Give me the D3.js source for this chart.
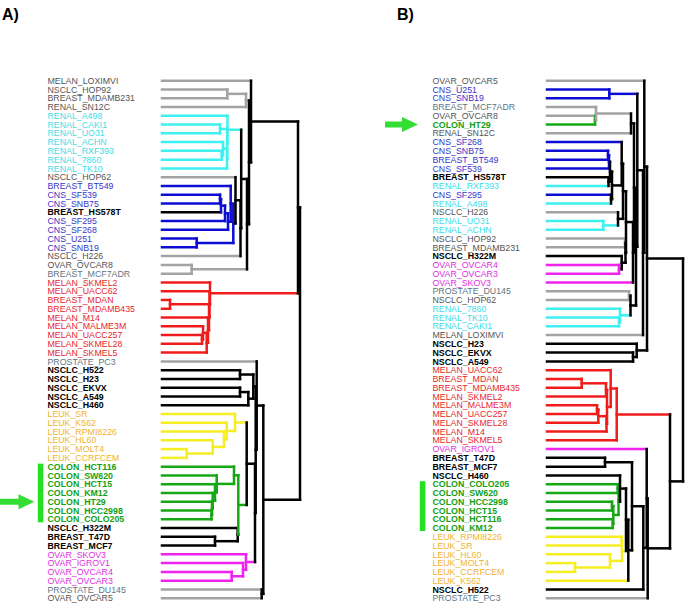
<!DOCTYPE html>
<html><head><meta charset="utf-8">
<script src="https://cdn.jsdelivr.net/npm/d3@7"></script>
<style>body{margin:0;background:#fff}svg{display:block}text{font-family:"Liberation Sans",Arial,Helvetica,sans-serif}</style>
</head><body>
<svg id="chart" width="685" height="606"></svg>
<script>
// ---- data ----
const orderA = ["MELAN_LOXIMVI","NSCLC_HOP92","BREAST_MDAMB231","RENAL_SN12C","RENAL_A498","RENAL_CAKI1","RENAL_UO31","RENAL_ACHN","RENAL_RXF393","RENAL_7860","RENAL_TK10","NSCLC_HOP62","BREAST_BT549","CNS_SF539","CNS_SNB75","BREAST_HS578T","CNS_SF295","CNS_SF268","CNS_U251","CNS_SNB19","NSCLC_H226","OVAR_OVCAR8","BREAST_MCF7ADR","MELAN_SKMEL2","MELAN_UACC62","BREAST_MDAN","BREAST_MDAMB435","MELAN_M14","MELAN_MALME3M","MELAN_UACC257","MELAN_SKMEL28","MELAN_SKMEL5","PROSTATE_PC3","NSCLC_H522","NSCLC_H23","NSCLC_EKVX","NSCLC_A549","NSCLC_H460","LEUK_SR","LEUK_K562","LEUK_RPMI8226","LEUK_HL60","LEUK_MOLT4","LEUK_CCRFCEM","COLON_HCT116","COLON_SW620","COLON_HCT15","COLON_KM12","COLON_HT29","COLON_HCC2998","COLON_COLO205","NSCLC_H322M","BREAST_T47D","BREAST_MCF7","OVAR_SKOV3","OVAR_IGROV1","OVAR_OVCAR4","OVAR_OVCAR3","PROSTATE_DU145","OVAR_OVCAR5"];
const groupsA = ["gray","gray","gray","gray","cyan","cyan","cyan","cyan","cyan","cyan","cyan","gray","blue","blue","blue","black","blue","blue","blue","blue","gray","gray","slate","red","red","red","red","red","red","red","red","red","slate","black","black","black","black","black","yellow","yellow","yellow","yellow","yellow","yellow","green","green","green","green","green","green","green","black","black","black","magenta","magenta","magenta","magenta","slate","gray"];
const orderB = ["OVAR_OVCAR5","CNS_U251","CNS_SNB19","BREAST_MCF7ADR","OVAR_OVCAR8","COLON_HT29","RENAL_SN12C","CNS_SF268","CNS_SNB75","BREAST_BT549","CNS_SF539","BREAST_HS578T","RENAL_RXF393","CNS_SF295","RENAL_A498","NSCLC_H226","RENAL_UO31","RENAL_ACHN","NSCLC_HOP92","BREAST_MDAMB231","NSCLC_H322M","OVAR_OVCAR4","OVAR_OVCAR3","OVAR_SKOV3","PROSTATE_DU145","NSCLC_HOP62","RENAL_7860","RENAL_TK10","RENAL_CAKI1","MELAN_LOXIMVI","NSCLC_H23","NSCLC_EKVX","NSCLC_A549","MELAN_UACC62","BREAST_MDAN","BREAST_MDAMB435","MELAN_SKMEL2","MELAN_MALME3M","MELAN_UACC257","MELAN_SKMEL28","MELAN_M14","MELAN_SKMEL5","OVAR_IGROV1","BREAST_T47D","BREAST_MCF7","NSCLC_H460","COLON_COLO205","COLON_SW620","COLON_HCC2998","COLON_HCT15","COLON_HCT116","COLON_KM12","LEUK_RPMI8226","LEUK_SR","LEUK_HL60","LEUK_MOLT4","LEUK_CCRFCEM","LEUK_K562","NSCLC_H522","PROSTATE_PC3"];

// merges: [id, children, height (distance), cluster group]
const mergesA = [
 ["a1",["NSCLC_HOP92","BREAST_MDAMB231"],0.653,"gray"],
 ["a2",["a1","RENAL_SN12C"],0.84,"gray"],
 ["cy1",["RENAL_CAKI1","RENAL_UO31"],0.58,"cyan"],
 ["cy2",["RENAL_RXF393","RENAL_7860"],0.597,"cyan"],
 ["cy3",["RENAL_ACHN","cy2"],0.61,"cyan"],
 ["cy4",["cy3","RENAL_TK10"],0.65,"cyan"],
 ["cy5",["cy1","cy4"],0.652,"cyan"],
 ["c6",["RENAL_A498","cy5"],0.654,"cyan"],
 ["b1",["CNS_SF539","CNS_SNB75"],0.58,"blue"],
 ["b2",["b1","BREAST_HS578T"],0.59,"blue"],
 ["b3",["b2","CNS_SF295"],0.63,"blue"],
 ["b4",["b3","CNS_SF268"],0.66,"blue"],
 ["b5",["BREAST_BT549","b4"],0.687,"blue"],
 ["b6",["CNS_U251","CNS_SNB19"],0.347,"blue"],
 ["bB",["b5","b6"],0.713,"blue"],
 ["z1",["NSCLC_HOP62","bB"],0.735,"black"],
 ["w1",["z1","NSCLC_H226"],0.785,"black"],
 ["k3",["c6","w1"],0.792,"black"],
 ["g0",["OVAR_OVCAR8","BREAST_MCF7ADR"],0.297,"gray"],
 ["k4",["k3","g0"],0.85,"black"],
 ["k5",["a2","k4"],0.87,"black"],
 ["k6",["MELAN_LOXIMVI","k5"],0.89,"black"],
 ["r1",["BREAST_MDAN","BREAST_MDAMB435"],0.08,"red"],
 ["r2",["MELAN_UACC257","MELAN_SKMEL28"],0.40,"red"],
 ["r3",["MELAN_MALME3M","r2"],0.41,"red"],
 ["r4",["r3","MELAN_SKMEL5"],0.447,"red"],
 ["r5",["MELAN_M14","r4"],0.46,"red"],
 ["r6",["r1","r5"],0.47,"red"],
 ["r7",["MELAN_UACC62","r6"],0.475,"red"],
 ["r8",["MELAN_SKMEL2","r7"],0.48,"red"],
 ["n1",["NSCLC_H522","NSCLC_H23"],0.78,"black"],
 ["n2",["NSCLC_EKVX","NSCLC_A549"],0.78,"black"],
 ["n3",["n2","NSCLC_H460"],0.863,"black"],
 ["n4",["n1","n3"],0.913,"black"],
 ["l1",["LEUK_MOLT4","LEUK_CCRFCEM"],0.247,"yellow"],
 ["l2",["LEUK_HL60","l1"],0.507,"yellow"],
 ["l3",["LEUK_RPMI8226","l2"],0.62,"yellow"],
 ["l4",["LEUK_K562","l3"],0.647,"yellow"],
 ["l5",["LEUK_SR","l4"],0.73,"yellow"],
 ["g1",["COLON_HCC2998","COLON_COLO205"],0.495,"green"],
 ["g2",["COLON_HT29","g1"],0.50,"green"],
 ["g3",["COLON_KM12","g2"],0.507,"green"],
 ["g4",["COLON_HCT15","g3"],0.53,"green"],
 ["g5",["COLON_SW620","g4"],0.547,"green"],
 ["g6",["COLON_HCT116","g5"],0.72,"green"],
 ["t1",["BREAST_T47D","BREAST_MCF7"],0.53,"black"],
 ["t2",["NSCLC_H322M","t1"],0.757,"black"],
 ["gx",["g6","t2"],0.763,"green"],
 ["lg",["l5","gx"],0.847,"black"],
 ["m1",["OVAR_OVCAR4","OVAR_OVCAR3"],0.697,"magenta"],
 ["m2",["OVAR_IGROV1","m1"],0.81,"magenta"],
 ["m3",["OVAR_SKOV3","m2"],0.84,"magenta"],
 ["lgm",["lg","m3"],0.93,"black"],
 ["nl",["n4","lgm"],0.937,"black"],
 ["pnl",["PROSTATE_PC3","nl"],0.947,"black"],
 ["do",["PROSTATE_DU145","OVAR_OVCAR5"],0.997,"black"],
 ["fin",["pnl","do"],1.013,"black"],
 ["u1",["k6","r8"],1.36,"black"],
 ["u2",["u1","fin"],1.38,"black"]
];
const mergesB = [
 ["s1",["CNS_U251","CNS_SNB19"],0.623,"blue"],
 ["s2",["OVAR_OVCAR8","COLON_HT29"],0.48,"green"],
 ["s3",["BREAST_MCF7ADR","s2"],0.49,"gray"],
 ["s4",["s3","RENAL_SN12C"],0.84,"black"],
 ["e1",["CNS_SNB75","BREAST_BT549"],0.61,"blue"],
 ["e2",["e1","CNS_SF539"],0.62,"blue"],
 ["e3",["BREAST_HS578T","RENAL_RXF393"],0.615,"black"],
 ["e4",["e2","e3"],0.63,"black"],
 ["e5",["CNS_SF295","RENAL_A498"],0.64,"black"],
 ["e6",["e4","e5"],0.65,"black"],
 ["t11",["CNS_SF268","e6"],0.747,"black"],
 ["cy",["RENAL_UO31","RENAL_ACHN"],0.563,"cyan"],
 ["t12",["NSCLC_H226","cy"],0.71,"black"],
 ["t10",["t11","t12"],0.76,"black"],
 ["hg",["NSCLC_HOP92","BREAST_MDAMB231"],0.78,"gray"],
 ["mo",["OVAR_OVCAR4","OVAR_OVCAR3"],0.72,"magenta"],
 ["t9",["NSCLC_H322M","mo"],0.747,"black"],
 ["t9b",["hg","t9"],0.785,"black"],
 ["t7",["t10","t9b"],0.79,"black"],
 ["t6",["t7","OVAR_SKOV3"],0.86,"black"],
 ["t5",["s4","t6"],0.87,"black"],
 ["dh",["PROSTATE_DU145","NSCLC_HOP62"],0.82,"gray"],
 ["c3a",["RENAL_TK10","RENAL_CAKI1"],0.72,"cyan"],
 ["c3",["RENAL_7860","c3a"],0.73,"cyan"],
 ["q",["dh","c3"],0.835,"black"],
 ["t4",["t5","q"],0.89,"black"],
 ["t3",["s1","t4"],0.903,"black"],
 ["t2",["t3","MELAN_LOXIMVI"],0.96,"black"],
 ["t1",["OVAR_OVCAR5","t2"],0.973,"black"],
 ["n2",["NSCLC_EKVX","NSCLC_A549"],0.86,"black"],
 ["n3",["NSCLC_H23","n2"],0.897,"black"],
 ["top",["t1","n3"],1.0,"black"],
 ["rr1",["BREAST_MDAN","BREAST_MDAMB435"],0.347,"red"],
 ["rrA",["MELAN_MALME3M","MELAN_UACC257"],0.50,"red"],
 ["rrB",["rrA","MELAN_SKMEL28"],0.513,"red"],
 ["rrC",["rrB","MELAN_M14"],0.595,"red"],
 ["rrD",["rr1","MELAN_SKMEL2"],0.59,"red"],
 ["rrE",["rrD","rrC"],0.60,"red"],
 ["rrF",["MELAN_UACC62","rrE"],0.637,"red"],
 ["rr",["rrF","MELAN_SKMEL5"],0.697,"red"],
 ["tm",["BREAST_T47D","BREAST_MCF7"],0.58,"black"],
 ["w1",["COLON_COLO205","COLON_SW620"],0.707,"green"],
 ["w2",["COLON_HCC2998","COLON_HCT15"],0.65,"green"],
 ["w3",["COLON_HCT116","COLON_KM12"],0.657,"green"],
 ["w4",["w2","w3"],0.663,"green"],
 ["gg",["w1","w4"],0.715,"green"],
 ["kf",["NSCLC_H460","gg"],0.73,"black"],
 ["y1",["LEUK_MOLT4","LEUK_CCRFCEM"],0.28,"yellow"],
 ["y2",["LEUK_HL60","y1"],0.63,"yellow"],
 ["y3",["LEUK_RPMI8226","LEUK_SR"],0.747,"yellow"],
 ["yg",["y3","y2"],0.75,"yellow"],
 ["ke",["kf","yg"],0.79,"black"],
 ["kd",["ke","LEUK_K562"],0.813,"black"],
 ["kc",["tm","kd"],0.85,"black"],
 ["kb",["kc","NSCLC_H522"],0.963,"black"],
 ["ka",["OVAR_IGROV1","kb"],0.997,"black"],
 ["kk",["ka","PROSTATE_PC3"],1.007,"black"],
 ["bot",["rr","kk"],1.23,"black"],
 ["root",["top","bot"],1.36,"black"]
];
const highlightA = ["COLON_HCT116","COLON_COLO205"], arrowA = "COLON_HT29";
const highlightB = ["COLON_COLO205","COLON_KM12"], arrowB = "COLON_HT29";

// ---- styles ----
const lineColor = d3.scaleOrdinal()
  .domain(["gray","slate","cyan","blue","black","red","yellow","green","magenta"])
  .range(["#a3a3a3","#a3a3a3","#3ef0f0","#0c0cd2","#000000","#f01c1c","#f4ee22","#14a814","#f022f0"]);
const labelColor = d3.scaleOrdinal()
  .domain(["gray","slate","cyan","blue","black","red","yellow","green","magenta"])
  .range(["#555555","#5f7584","#40dde8","#3636c8","#000000","#e8262e","#f0b42e","#14a014","#e22ee2"]);
const groupOf = new Map(orderA.map((n,i)=>[n,groupsA[i]]));

const svg = d3.select("#chart");
const rowY = d3.scaleLinear().domain([0, 59]).range([80.7, 598.2]);

function drawPanel(order, merges, o) {
  const x = d3.scaleLinear().domain([0, 1.4]).range([o.x0, o.x0 + 140]);
  const nodes = new Map();
  order.forEach((name, i) => nodes.set(name, {y: rowY(i), h: 0, group: groupOf.get(name)}));
  merges.forEach(([id, kids, h, grp]) => {
    const ch = kids.map(k => nodes.get(k));
    const ys = ch.map(c => c.y);
    nodes.set(id, {y: d3.mean(ys), y0: d3.min(ys), y1: d3.max(ys), h, group: grp, kids: ch});
  });
  const g = svg.append("g");
  g.selectAll("text.lab").data(order).join("text")
    .attr("class","lab")
    .attr("x", o.lx).attr("y", (d,i) => rowY(i)).attr("dy","0.36em")
    .attr("font-size", 8.8)
    .attr("font-weight", d => (groupOf.get(d)==="black"||groupOf.get(d)==="green") ? "bold" : "normal")
    .attr("fill", d => labelColor(groupOf.get(d)))
    .text(d => d);
  const lg = g.append("g").attr("stroke-width", 2.5).attr("stroke-linecap","square").attr("fill","none");
  merges.forEach(([id]) => {
    const n = nodes.get(id);
    n.kids.forEach(c => {
      lg.append("line").attr("x1", x(c.h)).attr("x2", x(n.h)).attr("y1", c.y).attr("y2", c.y)
        .attr("stroke", lineColor(c.group));
    });
  });
  merges.forEach(([id]) => {
    const n = nodes.get(id);
    lg.append("line").attr("x1", x(n.h)).attr("x2", x(n.h)).attr("y1", n.y0).attr("y2", n.y1)
      .attr("stroke", lineColor(n.group));
  });
  const hy0 = rowY(order.indexOf(o.hl[0])) - 3, hy1 = rowY(order.indexOf(o.hl[1])) + 3;
  g.append("rect").attr("x", o.barX).attr("y", hy0).attr("width", 5.5).attr("height", hy1 - hy0).attr("fill", "#22e022");
  const ay = rowY(order.indexOf(o.arrow));
  const ax0 = o.arrowX0, ax1 = o.arrowX1, hl = 16;
  g.append("path").attr("fill", "#33dd33")
    .attr("d", `M${ax0},${ay-3} L${ax1-hl},${ay-3} L${ax1-hl},${ay-7.5} L${ax1},${ay} L${ax1-hl},${ay+7.5} L${ax1-hl},${ay+3} L${ax0},${ay+3} Z`);
  svg.append("text").attr("x", o.letterX).attr("y", 20).attr("font-size", 16).attr("font-weight","bold").text(o.letter);
}

drawPanel(orderA, mergesA, {x0: 162, lx: 47.5, hl: highlightA, arrow: arrowA, barX: 37.8, arrowX0: 0, arrowX1: 34.5, letter: "A)", letterX: 2});
drawPanel(orderB, mergesB, {x0: 547, lx: 432.5, hl: highlightB, arrow: arrowB, barX: 419.8, arrowX0: 385, arrowX1: 418, letter: "B)", letterX: 397});
</script>
</body></html>
